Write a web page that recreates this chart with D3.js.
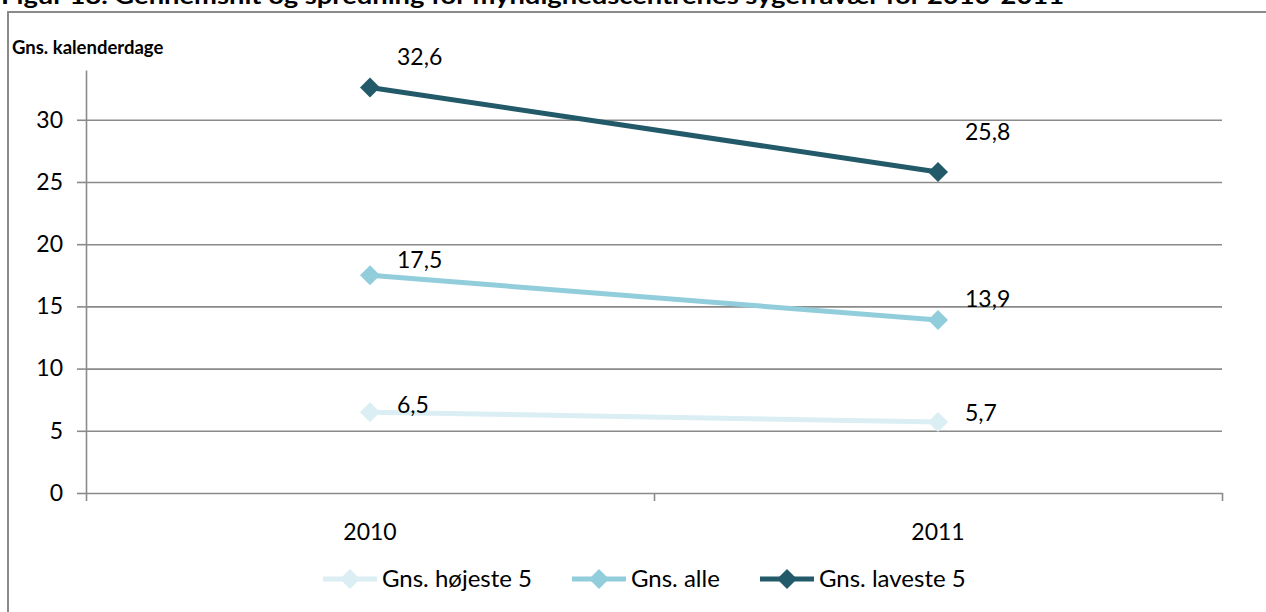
<!DOCTYPE html>
<html>
<head>
<meta charset="utf-8">
<script src="https://cdn.jsdelivr.net/npm/d3@7"></script>
<style>
  body { margin: 0; background: #fff; }
  svg { display: block; font-family: Lato, "Open Sans", sans-serif; }
</style>
</head>
<body>
<div id="chart"></div>
<script>
// data
var years = ["2010", "2011"];
var seriesNames = ["Gns. højeste 5", "Gns. alle", "Gns. laveste 5"];
var hoejeste = [6.5, 5.7];
var alle = [17.5, 13.9];
var laveste = [32.6, 25.8];
var yTicks = [0, 5, 10, 15, 20, 25, 30];

var colors = ["#daeef3", "#92cddc", "#235a69"];
// manual label nudges (as in the original figure)
var labelDy = [[-7, -9], [-15, -21], [-30, -40]];

var w = 1266, h = 612;
var mLeft = 86, mRight = 1222, mTop = 70, mBottom = 493;

var svg = d3.select("#chart").append("svg")
    .attr("width", w)
    .attr("height", h);

// title (cut at top in the original)
svg.append("text")
    .attr("x", 1)
    .attr("y", 4)
    .attr("font-weight", "bold")
    .attr("font-size", "22px")
    .attr("textLength", 1063)
    .attr("lengthAdjust", "spacingAndGlyphs")
    .text("Figur 18. Gennemsnit og spredning for myndighedscentrenes sygefravær for 2010-2011");

// outer frame
svg.append("rect")
    .attr("x", 8)
    .attr("y", 12)
    .attr("width", 1300)
    .attr("height", 700)
    .attr("fill", "none")
    .attr("stroke", "#8a8a8a")
    .attr("stroke-width", 2);

var x = d3.scaleBand().domain(years).range([mLeft, mRight]);
var y = d3.scaleLinear().domain([0, 34]).range([mBottom, mTop]);

// gridlines
svg.append("g")
    .attr("transform", "translate(" + mLeft + ",0)")
    .call(d3.axisLeft(y).tickValues(yTicks.slice(1)).tickSize(-(mRight - mLeft)).tickFormat(""))
    .call(function(g) {
        g.select(".domain").remove();
        g.selectAll("line").attr("stroke", "#8a8a8a").attr("stroke-width", 1.6);
    });

// y axis
svg.append("g")
    .attr("transform", "translate(" + mLeft + ",0)")
    .call(d3.axisLeft(y).tickValues(yTicks).tickSize(9).tickPadding(14).tickSizeOuter(0))
    .call(function(g) {
        g.select(".domain").attr("stroke", "#8a8a8a").attr("stroke-width", 1.6);
        g.selectAll("line").attr("stroke", "#8a8a8a").attr("stroke-width", 1.6);
        g.selectAll("text").attr("font-size", "23px").attr("fill", "#000")
            .attr("font-family", "Lato, sans-serif");
    });

// x axis line + boundary ticks
var xb = d3.scaleLinear().domain([0, years.length]).range([mLeft, mRight]);
svg.append("g")
    .attr("transform", "translate(0," + mBottom + ")")
    .call(d3.axisBottom(xb).ticks(years.length).tickSize(8).tickSizeOuter(0).tickFormat(""))
    .call(function(g) {
        g.select(".domain").attr("stroke", "#8a8a8a").attr("stroke-width", 1.6);
        g.selectAll("line").attr("stroke", "#8a8a8a").attr("stroke-width", 1.6);
    });

// x labels
svg.append("g")
    .attr("transform", "translate(0," + mBottom + ")")
    .call(d3.axisBottom(x).tickSize(0).tickPadding(31))
    .call(function(g) {
        g.select(".domain").remove();
        g.selectAll("text").attr("font-size", "23px").attr("fill", "#000")
            .attr("font-family", "Lato, sans-serif");
    });

// axis title
svg.append("text")
    .attr("x", 12)
    .attr("y", 54)
    .attr("font-weight", "bold")
    .attr("font-size", "18.5px")
    .text("Gns. kalenderdage");

var series = [hoejeste, alle, laveste];
var line = d3.line()
    .x(function(d, i) { return x(years[i]) + x.bandwidth() / 2; })
    .y(function(d) { return y(d); });
var diamond = d3.symbol().type(d3.symbolSquare).size(200);

series.forEach(function(vals, s) {
    svg.append("path")
        .datum(vals)
        .attr("d", line)
        .attr("fill", "none")
        .attr("stroke", colors[s])
        .attr("stroke-width", 5);

    svg.selectAll(".m" + s)
        .data(vals)
        .enter()
        .append("path")
        .attr("class", "m" + s)
        .attr("d", diamond)
        .attr("fill", colors[s])
        .attr("transform", function(d, i) {
            return "translate(" + (x(years[i]) + x.bandwidth() / 2) + "," + y(d) + ") rotate(45)";
        });

    svg.selectAll(".l" + s)
        .data(vals)
        .enter()
        .append("text")
        .attr("class", "l" + s)
        .attr("x", function(d, i) { return x(years[i]) + x.bandwidth() / 2 + 27; })
        .attr("y", function(d, i) { return y(d) + labelDy[s][i]; })
        .attr("dy", "0.35em")
        .attr("font-size", "23px")
        .text(function(d) { return d3.format(".1f")(d).replace(".", ","); });
});

// legend
var legendX = [323, 572, 760];
var legend = svg.selectAll(".legend")
    .data(seriesNames)
    .enter()
    .append("g")
    .attr("class", "legend")
    .attr("transform", function(d, i) { return "translate(" + legendX[i] + ",579)"; });

legend.append("line")
    .attr("x1", 0).attr("x2", 54)
    .attr("stroke", function(d, i) { return colors[i]; })
    .attr("stroke-width", 5);
legend.append("path")
    .attr("d", diamond)
    .attr("transform", "translate(27,0) rotate(45)")
    .attr("fill", function(d, i) { return colors[i]; });
legend.append("text")
    .attr("x", 59)
    .attr("dy", "0.35em")
    .attr("font-size", "24px")
    .text(function(d) { return d; });
</script>
</body>
</html>
